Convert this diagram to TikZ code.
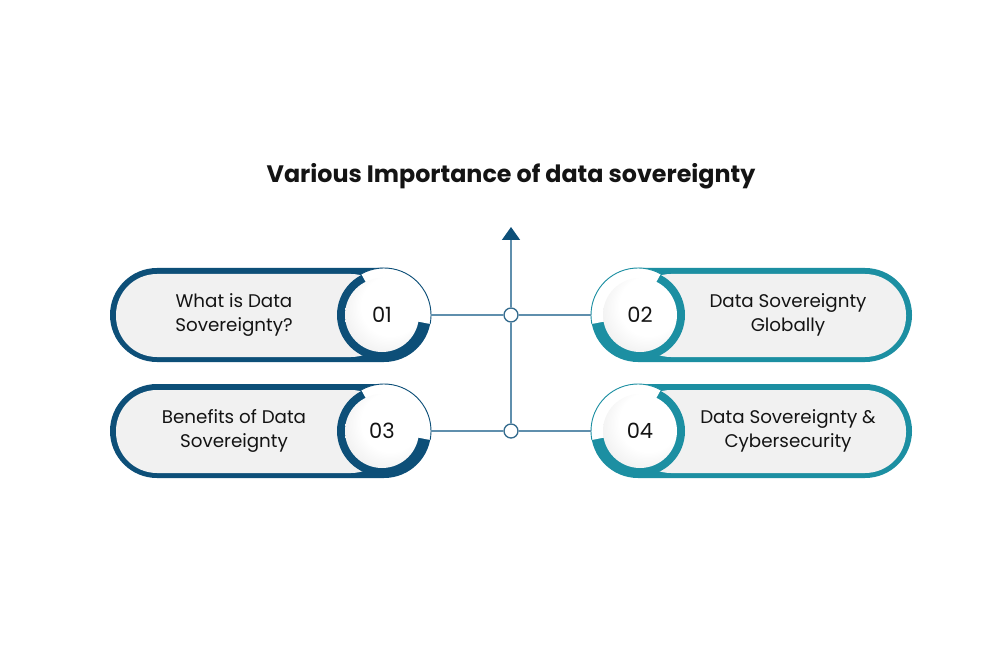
\documentclass[tikz,border=0pt]{standalone}
\usepackage{fontspec}
\setmainfont{Poppins}
\usetikzlibrary{arrows.meta}
\definecolor{dblue}{HTML}{0D4F78}
\definecolor{tealc}{HTML}{1C8FA2}
\definecolor{lnc}{HTML}{5F8FAD}
\definecolor{pillbg}{HTML}{F1F1F1}
\definecolor{ink}{HTML}{141414}
\pgfdeclareradialshading{btnshade}{\pgfpoint{10bp}{10bp}}{color(0bp)=(white); color(20bp)=(white); color(36bp)=(black!8); color(50bp)=(black!22)}
\tikzset{
  itemtext/.style={font=\fontsize{18.3}{24}\selectfont, align=center, text=ink},
  numcirc/.style={circle, minimum size=74pt, inner sep=0pt, shade, shading=btnshade, font=\fontsize{21}{22}\selectfont, text=ink},
  conn/.style={draw=lnc, line width=1.6pt},
  junction/.style={circle, draw=dblue!85, fill=white, line width=1.3pt, minimum size=14pt, inner sep=0pt},
  titletext/.style={font=\bfseries\fontsize{23.8}{26}\selectfont, text=ink},
}
\begin{document}
\begin{tikzpicture}[x=1pt,y=-1pt]
\useasboundingbox (0,0) rectangle (998,652);
\fill[white] (0,0) rectangle (998,652);
\node[titletext] (title) at (511,176) {Various Importance of data sovereignty};
% pill backgrounds
\foreach \cx/\cy/\s/\col in {382/315/1/dblue, 640/315/-1/tealc, 382/431/1/dblue, 640/431/-1/tealc}{
  \begin{scope}[shift={(\cx,\cy)}, xscale=\s]
    \fill[\col, rounded corners=47pt] (-272,-47) rectangle (49,47);
    \fill[pillbg, rounded corners=41pt] (-266,-41) rectangle (10,42);
    \fill[\col] (0,0) circle[radius=45];
    \fill[white] (2,0) -- ++(-119:47) arc[start angle=-119, end angle=11, radius=47] -- cycle;
    \draw[\col, line width=0.9pt] (2,0) ++(-119:47) arc[start angle=-119, end angle=11, radius=47];
  \end{scope}
}
% number circles
\node[numcirc] (n1) at (382,315) {01};
\node[numcirc] (n2) at (640,315) {02};
\node[numcirc] (n3) at (382,431) {03};
\node[numcirc] (n4) at (640,431) {04};
% texts
\node[itemtext] (t1) at (234,315) {What is Data\\Sovereignty?};
\node[itemtext] (t2) at (788,315) {Data Sovereignty\\Globally};
\node[itemtext] (t3) at (234,431) {Benefits of Data\\Sovereignty};
\node[itemtext] (t4) at (788,431) {Data Sovereignty \&\\Cybersecurity};
% connectors
\coordinate (e1) at (431,315);
\coordinate (e2) at (591,315);
\coordinate (e3) at (431,431);
\coordinate (e4) at (591,431);
\coordinate (tip) at (511,227);
\node[junction] (j1) at (511,315) {};
\node[junction] (j2) at (511,431) {};
\draw[conn, -{Triangle[width=18pt,length=13pt,color=dblue]}] (j1) -- (tip);
\draw[conn] (j1) -- (j2);
\draw[conn] (e1) -- (j1);
\draw[conn] (j1) -- (e2);
\draw[conn] (e3) -- (j2);
\draw[conn] (j2) -- (e4);
\end{tikzpicture}
\end{document}
